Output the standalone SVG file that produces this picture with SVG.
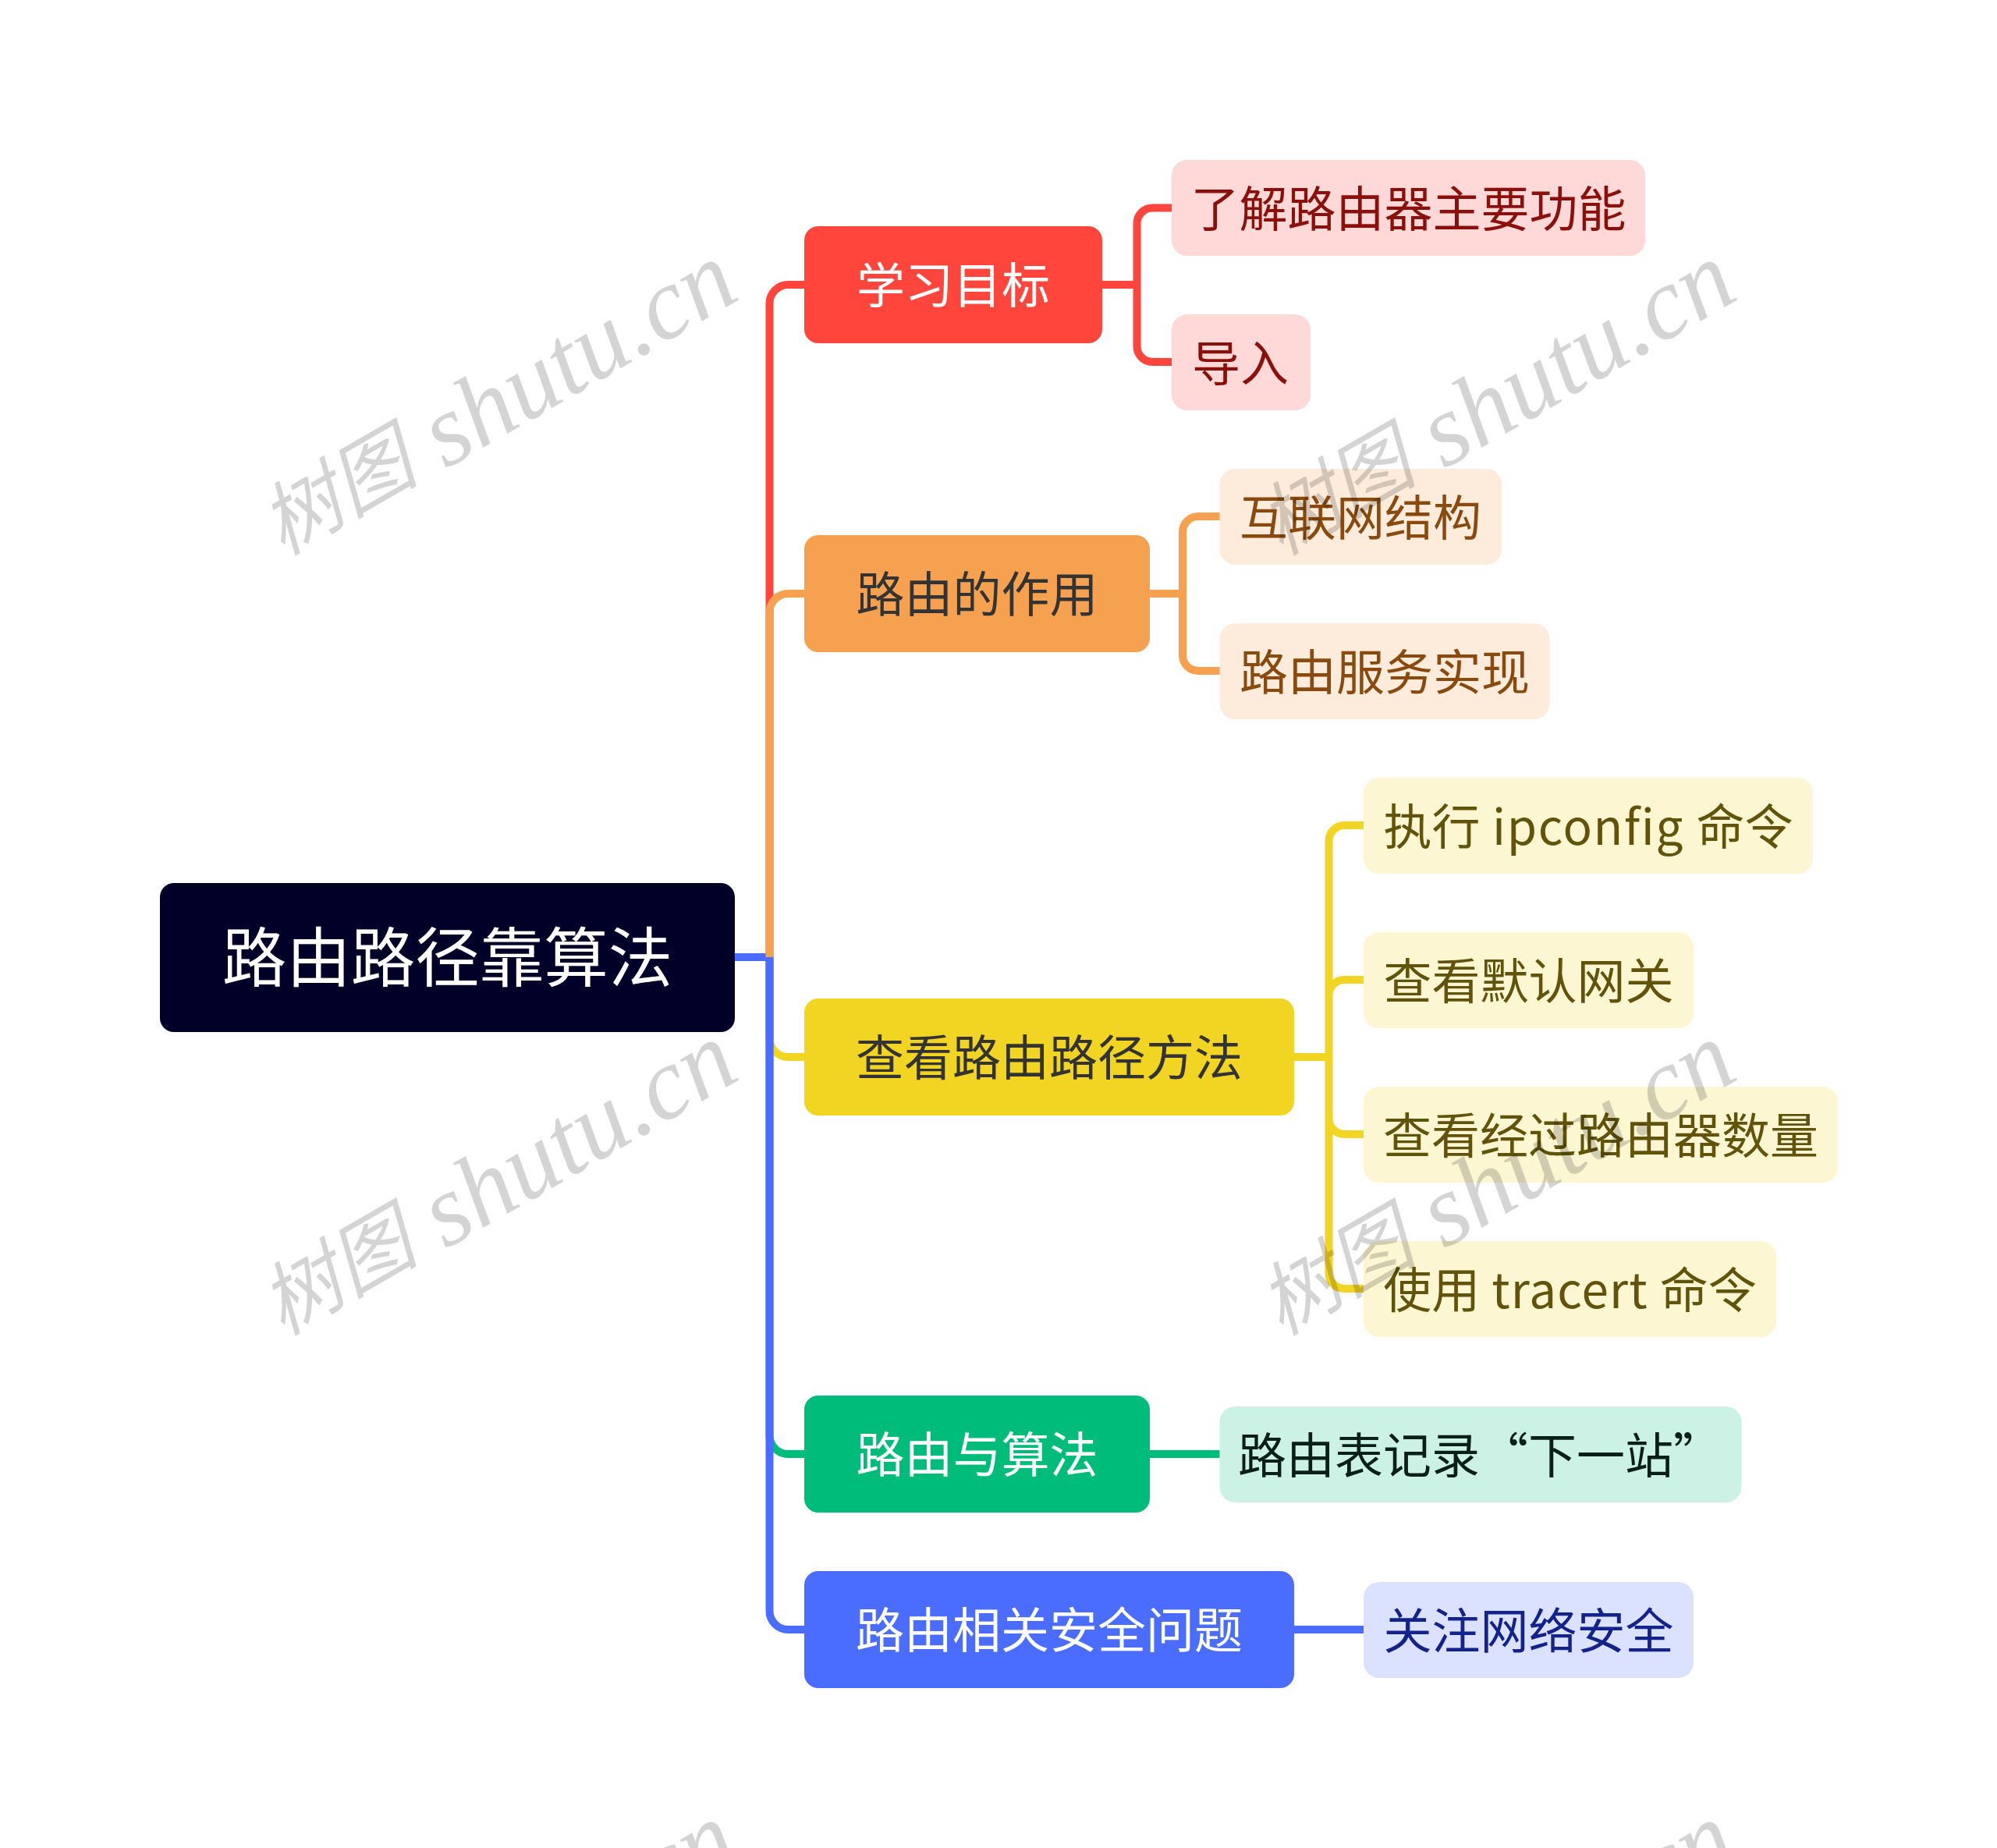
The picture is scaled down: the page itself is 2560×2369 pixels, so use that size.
<svg xmlns="http://www.w3.org/2000/svg" width="2560" height="2369" viewBox="0 0 2560 2369">
<style>
text{font-family:"Noto Sans CJK SC","Noto Sans",sans-serif}
.c{fill:none;stroke-width:10;stroke-linejoin:round}
.l,.b{font-size:62px;text-anchor:middle}
.wm{font-family:"Liberation Serif","Noto Sans CJK SC",serif;font-style:italic;font-size:131px;fill:#000;fill-opacity:.17}
.wm .z{font-family:"Noto Sans CJK SC",serif;font-size:102px}
.rl{fill:#FFD9D8}.ol{fill:#FDECDC}.yl{fill:#FCF6D3}
.rt{fill:#8B0F0A}.ot{fill:#8A4A0E}.yt{fill:#61530A}
</style>
<rect width="2560" height="2369" fill="#fff"/>
<g id="connectors">
<path class="c" stroke="#FF453C" d="M986.5 1227V389A24 24 0 0 1 1010.5 365H1032M1413 365H1457.5M1502 266.500H1477.500A20 20 0 0 0 1457.500 286.500V444A20 20 0 0 0 1477.500 464H1502"/>
<path class="c" stroke="#F2D422" d="M986.500 1227V1331A24 24 0 0 0 1010.500 1355H1032M1659 1355H1703.500M1748 1058H1723.500A20 20 0 0 0 1703.500 1078V1632A20 20 0 0 0 1723.500 1652H1748M1703.500 1355V1276A20 20 0 0 1 1723.500 1256H1748M1703.500 1355V1434A20 20 0 0 0 1723.500 1454H1748"/>
<path class="c" stroke="#00BC7B" d="M986.500 1227V1840A24 24 0 0 0 1010.500 1864H1032M1474 1864H1564"/>
<path class="c" stroke="#4A6CFF" d="M942 1227H986.500V2065A24 24 0 0 0 1010.500 2089H1032M1659 2089H1748"/>
<path class="c" stroke="#F5A14F" d="M986.500 1227V785A24 24 0 0 1 1010.500 761H1032M1474 761H1516M1564 662H1536A20 20 0 0 0 1516 682V840A20 20 0 0 0 1536 860H1564"/>
</g>
<g id="root"><rect x="205" y="1132" width="737" height="191" rx="18" fill="#000028"/><text x="573.500" y="1258" font-size="82.500" text-anchor="middle" fill="#fff">路由路径靠算法</text></g>
<g id="n1"><rect x="1031" y="290" width="382" height="150" rx="18" fill="#FF453C"/><text class="b" x="1222" y="389" fill="#fff">学习目标</text></g>
<g id="n1a"><rect class="rl" x="1502" y="205" width="607" height="123" rx="20"/><text class="l rt" x="1805.500" y="291">了解路由器主要功能</text></g>
<g id="n1b"><rect class="rl" x="1502" y="403" width="178" height="123" rx="20"/><text class="l rt" x="1590" y="489">导入</text></g>
<g id="n2"><rect x="1031" y="686" width="443" height="150" rx="18" fill="#F5A14F"/><text class="b" x="1252.500" y="785" fill="#333">路由的作用</text></g>
<g id="n2a"><rect class="ol" x="1563.500" y="601" width="361.500" height="123" rx="20"/><text class="l ot" x="1744" y="687">互联网结构</text></g>
<g id="n2b"><rect class="ol" x="1563.500" y="799" width="423" height="123" rx="20"/><text class="l ot" x="1775" y="885">路由服务实现</text></g>
<g id="n3"><rect x="1031" y="1280" width="628" height="150" rx="18" fill="#F2D422"/><text class="b" x="1345" y="1379" fill="#333">查看路由路径方法</text></g>
<g id="n3a"><rect class="yl" x="1748" y="997" width="576" height="123" rx="20"/><text class="l yt" x="2036" y="1083">执行<tspan letter-spacing="1.600"> ipconfig </tspan>命令</text></g>
<g id="n3b"><rect class="yl" x="1748" y="1195" width="423" height="123" rx="20"/><text class="l yt" x="1959.500" y="1281">查看默认网关</text></g>
<g id="n3c"><rect class="yl" x="1748" y="1393" width="608" height="123" rx="20"/><text class="l yt" x="2052" y="1479">查看经过路由器数量</text></g>
<g id="n3d"><rect class="yl" x="1748" y="1591" width="529" height="123" rx="20"/><text class="l yt" x="2012.500" y="1677">使用<tspan letter-spacing="1.100"> tracert </tspan>命令</text></g>
<g id="n4"><rect x="1031" y="1789" width="443" height="150" rx="18" fill="#00BC7B"/><text class="b" x="1252.500" y="1888" fill="#fff">路由与算法</text></g>
<g id="n4a"><rect x="1563.500" y="1803" width="669" height="123" rx="20" fill="#CCF2E5"/><text class="l" x="1897" y="1889" fill="#0A1F18">路由表记录“下一站”</text></g>
<g id="n5"><rect x="1031" y="2014" width="628" height="150" rx="18" fill="#4A6CFF"/><text class="b" x="1345" y="2113" fill="#fff">路由相关安全问题</text></g>
<g id="n5a"><rect x="1748" y="2028" width="423" height="123" rx="20" fill="#DBE2FF"/><text class="l" x="1959.500" y="2114" fill="#14238C">关注网络安全</text></g>
<g id="watermarks">
<text class="wm" transform="translate(366 720) rotate(-30)"><tspan class="z" dy="-8">树图</tspan><tspan dy="8"> shutu.cn</tspan></text>
<text class="wm" transform="translate(1646 720) rotate(-30)"><tspan class="z" dy="-8">树图</tspan><tspan dy="8"> shutu.cn</tspan></text>
<text class="wm" transform="translate(366 1720) rotate(-30)"><tspan class="z" dy="-8">树图</tspan><tspan dy="8"> shutu.cn</tspan></text>
<text class="wm" transform="translate(1646 1720) rotate(-30)"><tspan class="z" dy="-8">树图</tspan><tspan dy="8"> shutu.cn</tspan></text>
<text class="wm" transform="translate(366 2720) rotate(-30)"><tspan class="z" dy="-8">树图</tspan><tspan dy="8"> shutu.cn</tspan></text>
<text class="wm" transform="translate(1646 2720) rotate(-30)"><tspan class="z" dy="-8">树图</tspan><tspan dy="8"> shutu.cn</tspan></text>
</g>
</svg>
